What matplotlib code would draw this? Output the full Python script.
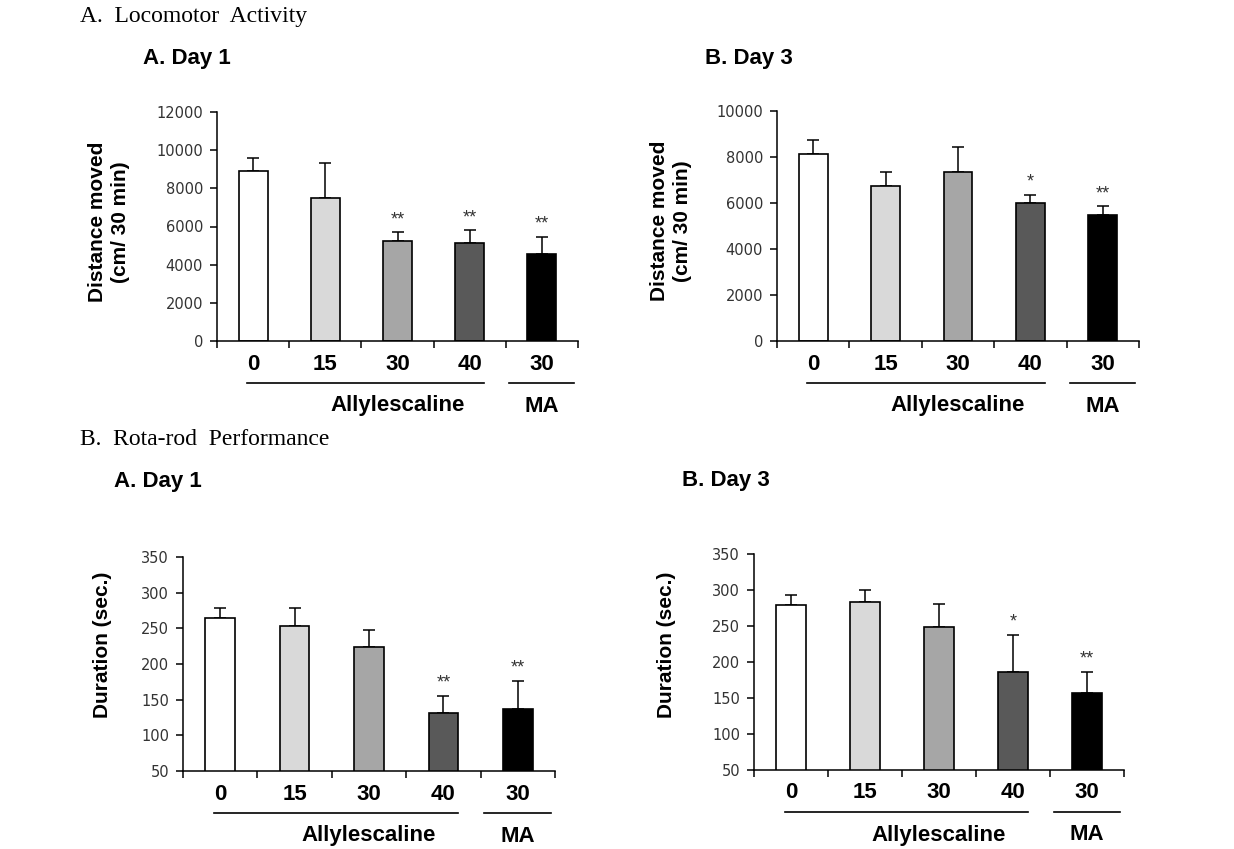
import matplotlib
matplotlib.use("Agg")
import matplotlib.pyplot as plt
import matplotlib.transforms as mtransforms

plt.rcParams['font.family'] = ['Liberation Sans', 'DejaVu Sans']

W, H = 1234, 849

doses = ["0", "15", "30", "40", "30"]
bar_colors = ["white", "#d9d9d9", "#a6a6a6", "#595959", "black"]

# A. Locomotor activity (distance moved, cm / 30 min)
loco_day1 = [8900, 7500, 5250, 5150, 4550]
loco_day1_err = [700, 1850, 450, 650, 900]
loco_day1_sig = ["", "", "**", "**", "**"]

loco_day3 = [8150, 6750, 7350, 6000, 5500]
loco_day3_err = [600, 600, 1100, 350, 350]
loco_day3_sig = ["", "", "", "*", "**"]

# B. Rota-rod performance (duration, sec.)
rota_day1 = [265, 253, 224, 132, 137]
rota_day1_err = [14, 26, 24, 23, 39]
rota_day1_sig = ["", "", "", "**", "**"]

rota_day3 = [279, 284, 248, 186, 157]
rota_day3_err = [14, 16, 33, 52, 29]
rota_day3_sig = ["", "", "", "*", "**"]


def px_axes(l, t, r, b):
    return fig.add_axes([l / W, 1 - b / H, (r - l) / W, (b - t) / H])


def bar_panel(ax, vals, errs, sig, ylim, yticks):
    x = list(range(len(vals)))
    ax.bar(x, vals, width=0.4, color=bar_colors, edgecolor="black",
           linewidth=1.2, zorder=2, bottom=0)
    ax.errorbar(x, vals, yerr=[[0] * len(vals), errs], fmt="none",
                ecolor="black", elinewidth=1.1, capsize=4, capthick=1.1,
                zorder=1)
    for xi, v, e, s in zip(x, vals, errs, sig):
        if s:
            ax.annotate(s, (xi, v + e), xytext=(0, 3), textcoords="offset points",
                        ha="center", va="bottom", fontsize=13, color="#333333")
    ax.set_xlim(-0.5, len(vals) - 0.5)
    ax.set_ylim(*ylim)
    ax.set_yticks(yticks)
    ax.set_yticklabels([str(t) for t in yticks], fontsize=10.5,
                       family="DejaVu Sans", color="#333333")
    ax.tick_params(axis="y", direction="out", length=5, width=1.1, pad=5)
    ax.set_xticks([i - 0.5 for i in range(len(vals) + 1)])
    ax.set_xticklabels([])
    ax.tick_params(axis="x", which="major", direction="out", length=5, width=1.1)
    ax.set_xticks(x, minor=True)
    ax.set_xticklabels(doses, minor=True, fontsize=16, fontweight="bold")
    ax.tick_params(axis="x", which="minor", length=0, pad=9)
    for sp in ["top", "right"]:
        ax.spines[sp].set_visible(False)
    for sp in ["left", "bottom"]:
        ax.spines[sp].set_linewidth(1.1)

    # group lines and labels under the axis
    base = mtransforms.blended_transform_factory(ax.transData, ax.transAxes)
    line_tr = base + mtransforms.ScaledTranslation(0, -42 / 100, fig.dpi_scale_trans)
    text_tr = base + mtransforms.ScaledTranslation(0, -65 / 100, fig.dpi_scale_trans)
    ax.plot([-0.08, 3.2], [0, 0], color="black", lw=1.2, transform=line_tr, clip_on=False)
    ax.plot([3.55, 4.45], [0, 0], color="black", lw=1.2, transform=line_tr, clip_on=False)
    ax.text(2.0, 0, "Allylescaline", transform=text_tr, ha="center", va="center",
            fontsize=16, fontweight="bold")
    ax.text(4.0, 0, "MA", transform=text_tr, ha="center", va="center",
            fontsize=16, fontweight="bold")


fig = plt.figure(figsize=(W / 100, H / 100), dpi=100)

ax1 = px_axes(217, 112, 578, 341)
bar_panel(ax1, loco_day1, loco_day1_err, loco_day1_sig, (0, 12000), list(range(0, 12001, 2000)))
ax2 = px_axes(777, 111, 1139, 341)
bar_panel(ax2, loco_day3, loco_day3_err, loco_day3_sig, (0, 10000), list(range(0, 10001, 2000)))
ax3 = px_axes(183, 557, 555, 771)
bar_panel(ax3, rota_day1, rota_day1_err, rota_day1_sig, (50, 350), list(range(50, 351, 50)))
ax4 = px_axes(754, 554, 1124, 770)
bar_panel(ax4, rota_day3, rota_day3_err, rota_day3_sig, (50, 350), list(range(50, 351, 50)))


def ftext(x, y, s, **kw):
    fig.text(x / W, 1 - y / H, s, **kw)


# section headings
ftext(80, 22, "A.  Locomotor  Activity", fontsize=17, family="Liberation Serif",
      ha="left", va="baseline")
ftext(80, 445, "B.  Rota-rod  Performance", fontsize=17, family="Liberation Serif",
      ha="left", va="baseline")

# panel titles
ftext(143, 64, "A. Day 1", fontsize=16, fontweight="bold", ha="left", va="baseline")
ftext(705, 64, "B. Day 3", fontsize=16, fontweight="bold", ha="left", va="baseline")
ftext(114, 487, "A. Day 1", fontsize=16, fontweight="bold", ha="left", va="baseline")
ftext(682, 486, "B. Day 3", fontsize=16, fontweight="bold", ha="left", va="baseline")

# y labels
ylab_kw = dict(fontsize=15, fontweight="bold", rotation=90, ha="center",
               va="center", multialignment="center", linespacing=1.3)
ftext(109, 222, "Distance moved\n(cm/ 30 min)", **ylab_kw)
ftext(671, 221, "Distance moved\n(cm/ 30 min)", **ylab_kw)
ftext(103, 645, "Duration (sec.)", **ylab_kw)
ftext(667, 645, "Duration (sec.)", **ylab_kw)

fig.savefig("out.png", dpi=100, facecolor="white")
